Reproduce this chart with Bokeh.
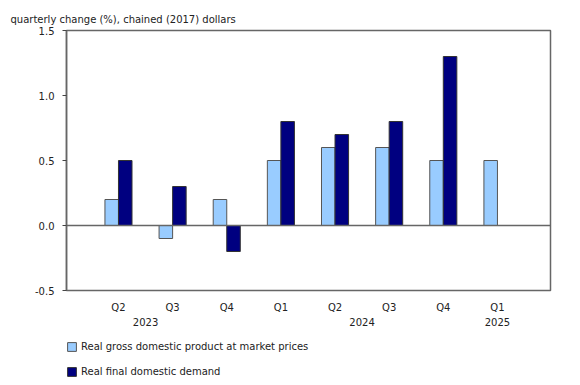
from bokeh.plotting import figure
from bokeh.layouts import column
from bokeh.models import (Range1d, FixedTicker, LinearAxis, Span, Legend, LegendItem,
                          ColumnDataSource, Title)
from bokeh.embed import file_html
from bokeh.resources import INLINE

quarters = ["Q2", "Q3", "Q4", "Q1", "Q2", "Q3", "Q4", "Q1"]
years = ["2023", "2024", "2025"]
year_positions = [1.5, 5.5, 8]
gdp = [0.2, -0.1, 0.2, 0.5, 0.6, 0.6, 0.5, 0.5]
fdd = [0.5, 0.3, -0.2, 0.8, 0.7, 0.8, 1.3, float("nan")]
y_ticks = [-0.5, 0.0, 0.5, 1.0, 1.5]
series_names = ["Real gross domestic product at market prices", "Real final domestic demand"]
series_colors = ["#99CCFF", "#000080"]
outline_colors = ["#555555", "#333333"]

FONT = "DejaVu Sans"
FS = "10px"
TXT = "#222222"

xs = list(range(1, len(quarters) + 1))
src = ColumnDataSource(dict(x_g=[x - 0.125 for x in xs], x_f=[x + 0.125 for x in xs],
                            gdp=gdp, fdd=fdd))

p = figure(width=572, height=335, output_backend="svg", toolbar_location=None,
           x_range=Range1d(0.04, 8.98), y_range=Range1d(-0.5, 1.5),
           x_axis_location=None, y_axis_location=None,
           min_border_left=66, min_border_right=22, min_border_top=30,
           min_border_bottom=45)
p.grid.visible = False
p.outline_line_color = "#666666"
p.outline_line_width = 1.5
p.background_fill_color = "white"
p.border_fill_color = "white"

p.title = Title(text="quarterly change (%), chained (2017) dollars", align="left",
                text_font=FONT, text_font_size=FS, text_font_style="normal",
                text_color=TXT, offset=-56, standoff=12)

yax = LinearAxis(ticker=FixedTicker(ticks=y_ticks))
yax.major_label_overrides = {v: f"{v:.1f}" for v in y_ticks}
yax.axis_line_color = "#666666"
yax.axis_line_width = 1.5
yax.major_tick_line_color = "#444444"
yax.major_tick_out = 4
yax.major_tick_in = 0
yax.minor_tick_line_color = None
yax.major_label_text_font = FONT
yax.major_label_text_font_size = FS
yax.major_label_text_color = TXT
yax.major_label_standoff = 8
p.add_layout(yax, "left")

xax = LinearAxis(ticker=FixedTicker(ticks=xs))
xax.major_label_overrides = {x: q for x, q in zip(xs, quarters)}
xax.axis_line_color = None
xax.major_tick_line_color = None
xax.minor_tick_line_color = None
xax.major_label_text_font = FONT
xax.major_label_text_font_size = FS
xax.major_label_text_color = TXT
xax.major_label_standoff = 5
p.add_layout(xax, "below")

yrax = LinearAxis(ticker=FixedTicker(ticks=year_positions))
yrax.major_label_overrides = {x: y for x, y in zip(year_positions, years)}
yrax.axis_line_color = None
yrax.major_tick_line_color = None
yrax.minor_tick_line_color = None
yrax.major_label_text_font = FONT
yrax.major_label_text_font_size = FS
yrax.major_label_text_color = TXT
yrax.major_label_standoff = -4
p.add_layout(yrax, "below")

p.vbar(x="x_g", top="gdp", bottom=0, width=0.25, source=src,
       fill_color=series_colors[0], line_color=outline_colors[0], line_width=1)
p.vbar(x="x_f", top="fdd", bottom=0, width=0.25, source=src,
       fill_color=series_colors[1], line_color=outline_colors[1], line_width=1)

p.add_layout(Span(location=0, dimension="width", line_color="#666666", line_width=1.5))

# legend figure (hidden proxy renderers share the same data)
lg = figure(width=572, height=50, output_backend="svg", toolbar_location=None,
            x_range=Range1d(0.04, 8.98), y_range=Range1d(-0.5, 1.5),
            x_axis_location=None, y_axis_location=None,
            min_border_left=66, min_border_right=22, min_border_top=0,
            min_border_bottom=0, outline_line_color=None)
lg.grid.visible = False
lr1 = lg.vbar(x="x_g", top="gdp", bottom=0, width=0.25, source=src, visible=False,
              fill_color=series_colors[0], line_color=outline_colors[0])
lr2 = lg.vbar(x="x_f", top="fdd", bottom=0, width=0.25, source=src, visible=False,
              fill_color=series_colors[1], line_color=outline_colors[1])
legend = Legend(items=[
    LegendItem(label=series_names[0], renderers=[lr1]),
    LegendItem(label=series_names[1], renderers=[lr2]),
], orientation="vertical", location=(0, 7))
legend.label_text_font = FONT
legend.label_text_font_size = FS
legend.label_text_color = TXT
legend.glyph_width = 11
legend.glyph_height = 11
legend.label_height = 14
legend.spacing = 11
legend.padding = 0
legend.margin = 0
legend.border_line_color = None
legend.background_fill_alpha = 0
legend.inactive_fill_alpha = 0
legend.label_standoff = 4
lg.add_layout(legend, "center")

layout = column(p, lg, spacing=0)
open("out.html", "w").write(file_html(layout, INLINE))
